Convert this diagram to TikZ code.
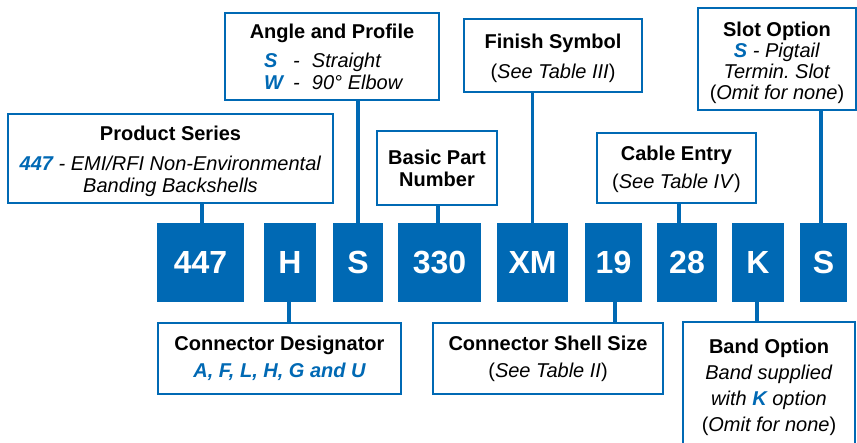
\documentclass[tikz,border=0pt]{standalone}
\usepackage{fontspec}
\setmainfont{Liberation Sans}
\definecolor{pnblue}{RGB}{0,105,180}
\newcommand{\blu}[1]{\textcolor{pnblue}{\bfseries\itshape #1}}

\begin{document}
\begin{tikzpicture}[x=1pt, y=-1pt,
  partbox/.style={fill=pnblue, text=white, inner sep=0pt, minimum height=79pt,
    font=\fontsize{32}{36}\selectfont\bfseries},
  labelbox/.style={draw=pnblue, line width=2.6pt, fill=white, align=center,
    inner sep=0pt, font=\fontsize{20}{22}\selectfont},
  stemline/.style={draw=pnblue, line width=3.6pt}]
\path[use as bounding box, clip] (0,0) rectangle (857,443);

% part number
\node[partbox, minimum width=87pt] (c1) at (200.5,262.5) {447};
\node[partbox, minimum width=52pt] (c2) at (290,262.5) {H};
\node[partbox, minimum width=50pt] (c3) at (358,262.5) {S};
\node[partbox, minimum width=83pt] (c4) at (439.5,262.5) {330};
\node[partbox, minimum width=71pt] (c5) at (532.5,262.5) {XM};
\node[partbox, minimum width=57pt] (c6) at (613.5,262.5) {19};
\node[partbox, minimum width=60pt] (c7) at (687,262.5) {28};
\node[partbox, minimum width=52pt] (c8) at (758,262.5) {K};
\node[partbox, minimum width=47pt] (c9) at (823.5,262.5) {S};

% upper boxes
\node[labelbox, minimum width=325pt, minimum height=89pt] (ser) at (170.5,158.5)
  {\rule{0pt}{21pt}\textbf{Product Series}\\[8pt]
   \textit{\blu{447} - EMI/RFI Non-Environmental}\\
   \textit{Banding Backshells}};
\node[labelbox, minimum width=214pt, minimum height=87pt] (ang) at (332,56.5)
  {\textbf{Angle and Profile}\\[7pt]
   \makebox[136pt][l]{\itshape\makebox[29pt][l]{\blu{S}}\makebox[19pt][l]{-}Straight}\\
   \makebox[136pt][l]{\itshape\makebox[29pt][l]{\blu{W}}\makebox[19pt][l]{-}90° Elbow}};
\node[labelbox, minimum width=120pt, minimum height=74pt] (bas) at (437,168)
  {\textbf{Basic Part}\\ \textbf{Number}};
\node[labelbox, minimum width=178pt, minimum height=73pt] (fin) at (553,55.5)
  {\rule{0pt}{21pt}\textbf{Finish Symbol}\\[8pt] (\textit{See Table III})};
\node[labelbox, minimum width=159pt, minimum height=70pt] (cab) at (676.5,168)
  {\rule{0pt}{18pt}\textbf{Cable Entry}\\[6pt] (\textit{See Table IV})};
\node[labelbox, minimum width=158pt, minimum height=102pt,
  font=\fontsize{20}{21}\selectfont] (slo) at (777,59)
  {\rule{0pt}{22pt}\textbf{Slot Option}\\ \textit{\blu{S} - Pigtail}\\ \textit{Termin.\ Slot}\\
   (\textit{Omit for none})};

% lower boxes
\node[labelbox, minimum width=243pt, minimum height=71pt] (des) at (279.5,358.5)
  {\textbf{Connector Designator}\\[5pt] \blu{A, F, L, H, G and U}};
\node[labelbox, minimum width=230pt, minimum height=71pt] (shl) at (548,358.5)
  {\textbf{Connector Shell Size}\\[5pt] (\textit{See Table II})};
\node[labelbox, minimum width=172pt, minimum height=130pt,
  font=\fontsize{20}{26}\selectfont] (bnd) at (769,387)
  {\textbf{Band Option}\\ \textit{Band supplied}\\ \textit{with \blu{K} option}\\
   (\textit{Omit for none})};

% stems
\draw[stemline] ([xshift=1.5pt]c1.north) -- ([xshift=1.5pt]c1.north |- ser.south);
\draw[stemline] (c3.north) -- (c3.north |- ang.south);
\draw[stemline] ([xshift=-1.5pt]c4.north) -- ([xshift=-1.5pt]c4.north |- bas.south);
\draw[stemline] (c5.north) -- (c5.north |- fin.south);
\draw[stemline] ([xshift=-8pt]c7.north) -- ([xshift=-8pt]c7.north |- cab.south);
\draw[stemline] ([xshift=-2.5pt]c9.north) -- ([xshift=-2.5pt]c9.north |- slo.south);
\draw[stemline] ([xshift=-1pt]c2.south) -- ([xshift=-1pt]c2.south |- des.north);
\draw[stemline] ([xshift=1.5pt]c6.south) -- ([xshift=1.5pt]c6.south |- shl.north);
\draw[stemline] ([xshift=-1pt]c8.south) -- ([xshift=-1pt]c8.south |- bnd.north);
\end{tikzpicture}
\end{document}
